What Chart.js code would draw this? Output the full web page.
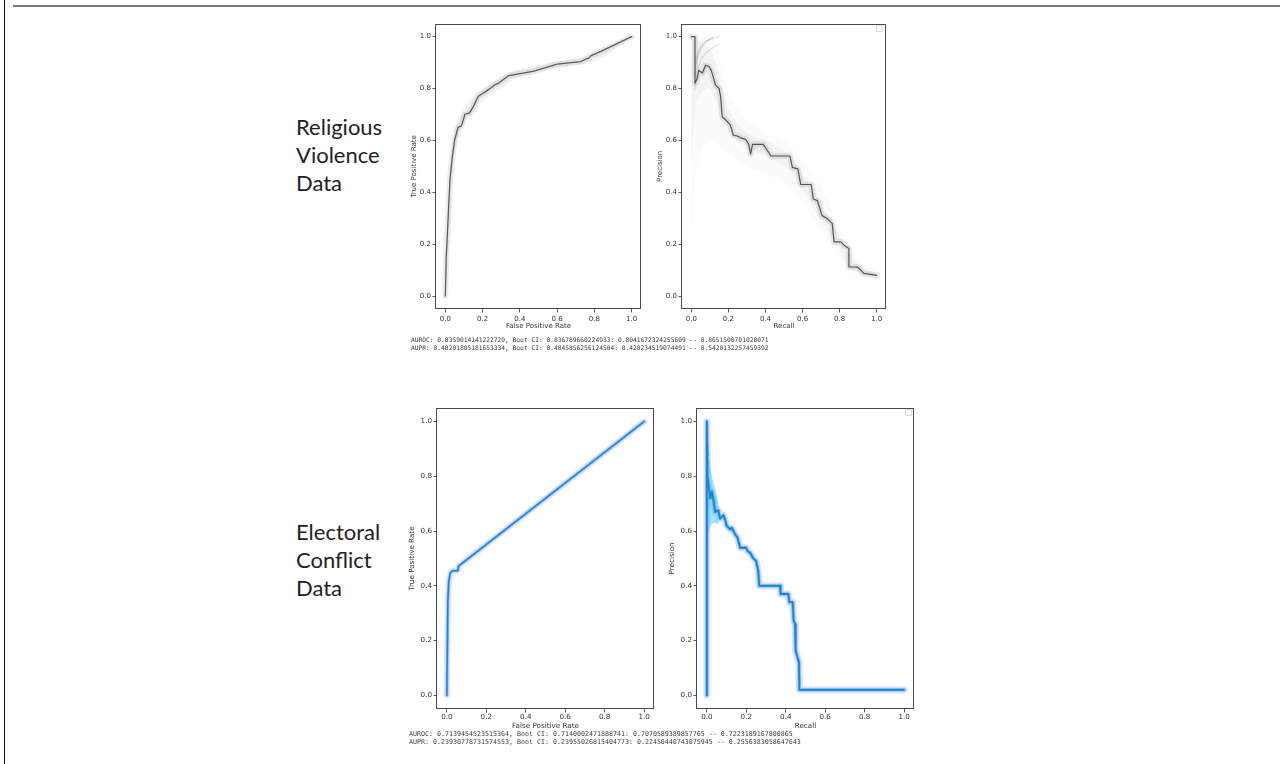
<!DOCTYPE html>
<html>
<head>
<meta charset="utf-8">
<script src="https://cdn.jsdelivr.net/npm/chart.js@4.4.1/dist/chart.umd.min.js"></script>
<style>
  html, body { margin:0; padding:0; background:#fff; }
  body { width:1282px; height:764px; position:relative; overflow:hidden; }
  canvas { position:absolute; }
  .vline { position:absolute; left:4px; top:0; width:1px; height:764px; background:#111; }
  .hline { position:absolute; left:13px; top:5px; width:1267px; height:2px; background:#7a7a7a; }
  .rowlabel { position:absolute; left:296px; font-family:Lato, "Open Sans", sans-serif; font-size:22px; line-height:28px; color:#222; }
  .stats { position:absolute; font-family:"DejaVu Sans Mono", monospace; color:#3a3a3a; white-space:pre; will-change:transform; }
  .legbox { position:absolute; width:5px; height:5px; border:1px solid #ddd; background:#fff; }
</style>
</head>
<body>
<div class="vline"></div>
<div class="hline"></div>

<div class="rowlabel" style="top:113px;">Religious<br>Violence<br>Data</div>
<div class="rowlabel" style="top:518px;">Electoral<br>Conflict<br>Data</div>

<canvas id="rocRel" width="241" height="313" style="left:404px;top:18px;"></canvas>
<canvas id="prRel" width="240" height="313" style="left:650px;top:18px;"></canvas>
<canvas id="rocEle" width="255" height="329" style="left:403px;top:402px;"></canvas>
<canvas id="prEle" width="255" height="329" style="left:663px;top:402px;"></canvas>

<div class="legbox" style="left:876px;top:25px;"></div>
<div class="legbox" style="left:905px;top:409px;"></div>

<div class="stats" id="statsRel" style="left:411px;top:336px;font-size:6.25px;line-height:7.5px;"></div>
<div class="stats" id="statsEle" style="left:409px;top:730px;font-size:6.65px;line-height:8.3px;"></div>

<script>
// ---------- tick labels ----------
const tickValues = [0, 0.2, 0.4, 0.6, 0.8, 1.0];
const tickLabels = ['0.0', '0.2', '0.4', '0.6', '0.8', '1.0'];

// ---------- Religious Violence: ROC ----------
const rocRelFpr = [0,0.005,0.015,0.025,0.036,0.05,0.068,0.086,0.105,0.13,0.15,0.177,0.22,0.267,0.285,0.34,0.47,0.60,0.726,0.753,0.77,0.78,0.834,1.0];
const rocRelTpr = [0,0.15,0.30,0.45,0.527,0.60,0.65,0.655,0.70,0.706,0.73,0.77,0.79,0.815,0.82,0.85,0.866,0.894,0.904,0.913,0.917,0.926,0.943,1.0];
const rocRelBandX     = [0,0.02,0.05,0.1,0.15,0.2,0.3,0.4,0.5,0.6,0.7,0.8,0.9,1.0];
const rocRelBandUpper = [0.05,0.40,0.64,0.72,0.77,0.80,0.845,0.875,0.89,0.905,0.915,0.935,0.965,1.0];
const rocRelBandLower = [0,0.22,0.56,0.67,0.71,0.75,0.80,0.845,0.865,0.88,0.89,0.905,0.945,1.0];

// ---------- Religious Violence: PR ----------
const prRelRecall = [0,0.02,0.02,0.032,0.04,0.06,0.077,0.095,0.108,0.12,0.13,0.15,0.158,0.167,0.185,0.21,0.227,0.248,0.266,0.293,0.31,0.32,0.33,0.388,0.406,0.43,0.532,0.545,0.575,0.59,0.647,0.658,0.68,0.705,0.73,0.76,0.77,0.806,0.824,0.85,0.85,0.896,0.914,0.93,1.0];
const prRelPrecision = [1.0,1.0,0.82,0.84,0.87,0.86,0.89,0.885,0.87,0.84,0.814,0.80,0.77,0.69,0.68,0.66,0.62,0.617,0.61,0.604,0.585,0.547,0.585,0.585,0.566,0.54,0.54,0.496,0.49,0.43,0.43,0.374,0.368,0.31,0.30,0.28,0.209,0.209,0.196,0.183,0.112,0.112,0.10,0.087,0.08];
const prRelBandX         = [0,0.02,0.05,0.1,0.15,0.2,0.3,0.4,0.5,0.6,0.7,0.8,0.85,0.9,1.0];
const prRelWideUpper     = [1.0,1.0,1.0,1.0,0.93,0.78,0.68,0.63,0.60,0.52,0.42,0.26,0.20,0.14,0.09];
const prRelWideLower     = [0.2,0.45,0.55,0.60,0.58,0.55,0.50,0.47,0.44,0.36,0.25,0.15,0.10,0.08,0.075];
const prRelNarrowUpper   = [1.0,1.0,0.98,0.95,0.86,0.72,0.63,0.60,0.56,0.47,0.36,0.23,0.17,0.12,0.085];
const prRelNarrowLower   = [0.5,0.70,0.78,0.80,0.72,0.64,0.57,0.54,0.50,0.41,0.29,0.18,0.11,0.09,0.078];
const prRelArcARecall = [0.02,0.03,0.05,0.08,0.12];
const prRelArcAPrec   = [0.85,0.91,0.95,0.98,1.0];
const prRelArcBRecall = [0.02,0.035,0.06,0.10,0.15];
const prRelArcBPrec   = [0.80,0.87,0.92,0.95,0.97];
const prRelArcCRecall = [0.02,0.04,0.07,0.11,0.15];
const prRelArcCPrec   = [0.90,0.95,0.98,0.99,1.0];

// ---------- Electoral Conflict: ROC ----------
const rocEleFpr = [0,0.005,0.01,0.018,0.03,0.055,0.06,0.072,1.0];
const rocEleTpr = [0,0.345,0.418,0.448,0.455,0.455,0.473,0.479,1.0];

// ---------- Electoral Conflict: PR ----------
const prEleRecall = [0,0,0.003,0.008,0.017,0.025,0.034,0.042,0.059,0.067,0.084,0.093,0.10,0.118,0.126,0.143,0.155,0.169,0.199,0.206,0.22,0.233,0.25,0.26,0.266,0.371,0.374,0.413,0.418,0.435,0.44,0.447,0.45,0.459,0.467,0.469,1.0];
const prElePrecision = [0,1.0,0.80,0.77,0.72,0.745,0.71,0.67,0.675,0.645,0.658,0.64,0.62,0.606,0.612,0.588,0.576,0.539,0.539,0.527,0.52,0.503,0.49,0.455,0.40,0.40,0.37,0.37,0.34,0.34,0.273,0.26,0.164,0.14,0.121,0.02,0.02];
const prEleFanX     = [0,0.01,0.02,0.04,0.06];
const prEleFanUpper = [1.0,0.90,0.82,0.76,0.70];
const prEleFanLower = [0.5,0.60,0.62,0.63,0.62];

// ---------- summary text ----------
const statsRel = [
  'AUROC: 0.8359014141222729, Boot CI: 0.836789660224933: 0.8041672324255609 -- 0.8651500701020071',
  'AUPR: 0.48201805181653334, Boot CI: 0.4845856256124504: 0.420234519074491 -- 0.5420132257459392'
];
const statsEle = [
  'AUROC: 0.7139454523515364, Boot CI: 0.7140002471888741: 0.7070589389857765 -- 0.7223189167800865',
  'AUPR: 0.23930778731574553, Boot CI: 0.23955026815404773: 0.22450440743075945 -- 0.2556383058647643'
];
document.getElementById('statsRel').textContent = statsRel.join('\n');
document.getElementById('statsEle').textContent = statsEle.join('\n');

// ---------- helpers ----------
const zip = (xs, ys) => xs.map((x, i) => ({ x: x, y: ys[i] }));

const framePlugin = {
  id: 'frame',
  afterDatasetsDraw(chart) {
    const a = chart.chartArea, ctx = chart.ctx;
    ctx.save();
    ctx.strokeStyle = '#4a4a4a';
    ctx.lineWidth = 1;
    ctx.strokeRect(Math.round(a.left) - 0.5, Math.round(a.top) + 0.5, Math.round(a.right - a.left), Math.round(a.bottom - a.top) - 1);
    ctx.restore();
  }
};

function line(data, color, width, order, extra) {
  return Object.assign({
    data: data, borderColor: color, borderWidth: width, pointRadius: 0,
    fill: false, tension: 0, order: order, borderJoinStyle: 'round', borderCapStyle: 'round'
  }, extra || {});
}
function band(xs, lo, hi, color, order) {
  return [
    { data: zip(xs, lo), borderWidth: 0, pointRadius: 0, fill: false, tension: 0.3, order: order, borderColor: 'rgba(0,0,0,0)' },
    { data: zip(xs, hi), borderWidth: 0, pointRadius: 0, fill: '-1', backgroundColor: color, tension: 0.3, order: order, borderColor: 'rgba(0,0,0,0)' }
  ];
}

function axis(title, fontSize, isY, fitSize, titlePad, tickPad) {
  return {
    type: 'linear', min: -0.05, max: 1.05,
    afterBuildTicks: s => { s.ticks = tickValues.map(v => ({ value: v })); },
    afterFit: s => { if (isY) s.width = fitSize; else s.height = fitSize; },
    ticks: {
      callback: (v, i) => tickLabels[i],
      font: { family: 'DejaVu Sans', size: fontSize },
      color: '#333', padding: tickPad, maxRotation: 0, autoSkip: false
    },
    grid: { display: true, drawOnChartArea: false, drawTicks: true, tickLength: 3.5, tickColor: '#4a4a4a', tickWidth: 0.9 },
    border: { display: false },
    title: {
      display: true, text: title, color: '#333',
      font: { family: 'DejaVu Sans', size: fontSize },
      padding: isY ? { top: titlePad, bottom: 0 } : { top: 0, bottom: titlePad }
    }
  };
}

function makeChart(id, datasets, xTitle, yTitle, fontSize, yWidth, yTitlePad, xTitlePad, xTickPad) {
  new Chart(document.getElementById(id), {
    type: 'line',
    data: { datasets: datasets },
    options: {
      responsive: false, animation: false, devicePixelRatio: 1,
      layout: { padding: { left: 0, top: 3, right: 4, bottom: 0 } },
      plugins: { legend: { display: false }, tooltip: { enabled: false } },
      scales: {
        x: axis(xTitle, fontSize, false, 22, xTitlePad, xTickPad),
        y: axis(yTitle, fontSize, true, yWidth, yTitlePad, 1.5)
      }
    },
    plugins: [framePlugin]
  });
}

// Religious ROC
makeChart('rocRel', [
  line(zip(rocRelFpr, rocRelTpr), '#5e5e5e', 1.3, 0),
  line(zip(rocRelFpr, rocRelTpr), 'rgba(90,90,90,0.12)', 6, 1),
  ...band(rocRelBandX, rocRelBandLower, rocRelBandUpper, 'rgba(120,120,120,0.09)', 3)
], 'False Positive Rate', 'True Positive Rate', 7, 32, 5.8, 1.1, 2);

// Religious PR
makeChart('prRel', [
  line(zip(prRelRecall, prRelPrecision), '#555555', 1.2, 0),
  line(zip(prRelRecall, prRelPrecision), 'rgba(90,90,90,0.14)', 6, 1),
  line(zip(prRelArcARecall, prRelArcAPrec), 'rgba(90,90,90,0.25)', 1.2, 2, { tension: 0.4 }),
  line(zip(prRelArcBRecall, prRelArcBPrec), 'rgba(90,90,90,0.18)', 1.2, 2, { tension: 0.4 }),
  line(zip(prRelArcCRecall, prRelArcCPrec), 'rgba(90,90,90,0.18)', 1.2, 2, { tension: 0.4 }),
  ...band(prRelBandX, prRelNarrowLower, prRelNarrowUpper, 'rgba(120,120,120,0.06)', 3),
  ...band(prRelBandX, prRelWideLower, prRelWideUpper, 'rgba(120,120,120,0.03)', 4)
], 'Recall', 'Precision', 7, 32, 5.8, 1.1, 2);

// Electoral ROC
makeChart('rocEle', [
  line(zip(rocEleFpr, rocEleTpr), '#2386cc', 1.5, 0),
  line(zip(rocEleFpr, rocEleTpr), 'rgba(40,170,240,0.5)', 3, 1),
  line(zip(rocEleFpr, rocEleTpr), 'rgba(170,150,255,0.3)', 6, 2)
], 'False Positive Rate', 'True Positive Rate', 7.2, 34, 5.3, 0.3, 0.5);

// Electoral PR
makeChart('prEle', [
  line(zip(prEleRecall, prElePrecision), '#2a7fbf', 1.8, 0),
  line(zip(prEleRecall, prElePrecision), 'rgba(0,190,255,0.55)', 3.5, 1),
  line(zip(prEleRecall, prElePrecision), 'rgba(160,140,255,0.3)', 7, 2),
  ...band(prEleFanX, prEleFanLower, prEleFanUpper, 'rgba(0,190,255,0.4)', 3)
], 'Recall', 'Precision', 7.2, 34, 5.3, 0.3, 0.5);
</script>
</body>
</html>
